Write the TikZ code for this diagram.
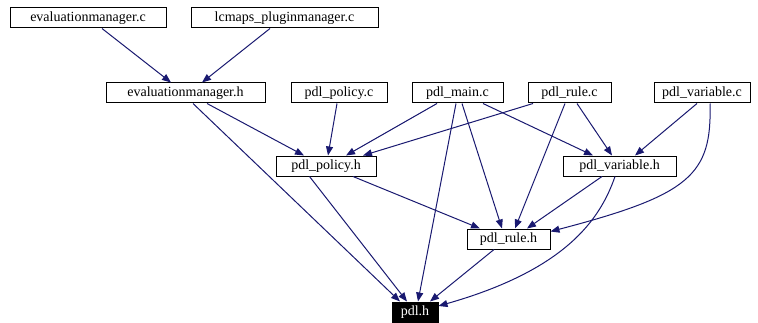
\documentclass[tikz,border=0pt]{standalone}
\usepackage{fontspec}
\setmainfont{Liberation Serif}
\usetikzlibrary{arrows.meta}
\definecolor{edgeC}{HTML}{191970}
\tikzset{
  file/.style={draw=black, line width=1pt, fill=white, inner sep=0pt,
               minimum height=20pt, font=\fontsize{14}{16}\selectfont},
  cur/.style={file, fill=black, text=white},
  dep/.style={-{Triangle[length=9pt,width=7pt]}, draw=edgeC, line width=1pt},
}

\begin{document}
\begin{tikzpicture}[x=1pt, y=1pt]
\useasboundingbox (0,0) rectangle (758,322);
% top row
\node[file, minimum width=156pt] (emc) at (88,304) {evaluationmanager.c};
\node[file, minimum width=187pt] (lcm) at (284.5,304) {lcmaps\_pluginmanager.c};
% sources
\node[file, minimum width=159pt] (emh) at (185.5,229) {evaluationmanager.h};
\node[file, minimum width=96pt] (ppc) at (339,229) {pdl\_policy.c};
\node[file, minimum width=91pt] (pmc) at (457.5,229) {pdl\_main.c};
\node[file, minimum width=83pt] (prc) at (569.5,229) {pdl\_rule.c};
\node[file, minimum width=96pt] (pvc) at (702,229) {pdl\_variable.c};
% headers
\node[file, minimum width=100pt] (pph) at (326,156) {pdl\_policy.h};
\node[file, minimum width=113pt] (pvh) at (619.5,156) {pdl\_variable.h};
\node[file, minimum width=83pt] (prh) at (508.5,83) {pdl\_rule.h};
\node[cur, minimum width=46pt] (pdl) at (415,10) {pdl.h};
% includes
\draw[dep] ([xshift=14pt]emc.south) -- ([xshift=-14.5pt]emh.north);
\draw[dep] ([xshift=-14.5pt]lcm.south) -- ([xshift=16.5pt]emh.north);
\draw[dep] ([xshift=21.5pt]emh.south) -- ([xshift=-22pt]pph.north);
\draw[dep] ([xshift=7.5pt]emh.south) -- ([xshift=-15pt]pdl.north);
\draw[dep] ([xshift=-2pt]ppc.south) -- ([xshift=2pt]pph.north);
\draw[dep] ([xshift=-20.5pt]pmc.south) -- ([xshift=20pt]pph.north);
\draw[dep] ([xshift=-1.5pt]pmc.south) -- ([xshift=3pt]pdl.north);
\draw[dep] ([xshift=4.5pt]pmc.south) -- ([xshift=-6.5pt]prh.north);
\draw[dep] ([xshift=25.5pt]pmc.south) -- ([xshift=-26.5pt]pvh.north);
\draw[dep] ([xshift=-36.5pt]prc.south) -- ([xshift=37pt]pph.north);
\draw[dep] ([xshift=-4.5pt]prc.south) -- ([xshift=6.5pt]prh.north);
\draw[dep] ([xshift=7.5pt]prc.south) -- ([xshift=-7.5pt]pvh.north);
\draw[dep] ([xshift=-5pt]pvc.south) -- ([xshift=15.5pt]pvh.north);
\draw[dep] ([xshift=8pt]pvc.south) .. controls (712,147) and (690,127) .. ([yshift=-3pt]prh.north east);
\draw[dep] ([xshift=-16.5pt]pph.south) -- ([xshift=-8pt]pdl.north);
\draw[dep] ([xshift=27pt]pph.south) -- ([xshift=-28.5pt]prh.north);
\draw[dep] ([xshift=-17.5pt]pvh.south) -- ([xshift=18.5pt]prh.north);
\draw[dep] ([xshift=-4.5pt]pvh.south) .. controls (600,102) and (565,52) .. ([yshift=6pt]pdl.east);
\draw[dep] ([xshift=-14.5pt]prh.south) -- ([xshift=15pt]pdl.north);
\end{tikzpicture}
\end{document}
